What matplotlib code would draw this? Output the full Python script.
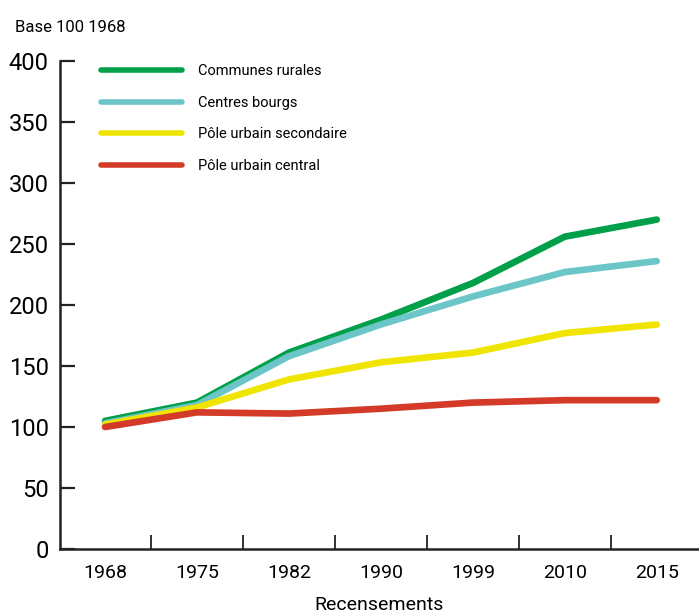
import matplotlib

matplotlib.use("Agg")
import matplotlib.pyplot as plt
from matplotlib.lines import Line2D

years = ["1968", "1975", "1982", "1990", "1999", "2010", "2015"]
communes_rurales = [105, 120, 161, 188, 218, 256, 270]
centres_bourgs = [103, 118, 158, 184, 207, 227, 236]
pole_secondaire = [102, 116, 139, 153, 161, 177, 184]
pole_central = [100, 112, 111, 115, 120, 122, 122]

series = [
    ("Communes rurales", communes_rurales, "#00a04a"),
    ("Centres bourgs", centres_bourgs, "#6cc6c8"),
    ("Pôle urbain secondaire", pole_secondaire, "#f0e500"),
    ("Pôle urbain central", pole_central, "#d33b28"),
]
draw_order = [2, 1, 0, 3]

plt.rcParams["font.family"] = ["Roboto", "DejaVu Sans"]

fig = plt.figure(figsize=(6.99, 6.15), dpi=100)
ax = fig.add_axes([60 / 699, 1 - 549 / 615, 1 - 60 / 699, 488 / 615])

x = list(range(len(years)))
for i in draw_order:
    label, values, color = series[i]
    ax.plot(x, values, color=color, lw=4.8, solid_capstyle="round",
            solid_joinstyle="round", zorder=2 + i)

ax.set_xlim(-0.49, 6.46)
ax.set_ylim(0, 400)
ax.set_yticks(range(0, 401, 50))
ax.tick_params(axis="y", direction="in", length=11, width=1.6,
               labelsize=17, pad=8, color="#222222")
ax.set_xticks(x)
ax.set_xticklabels(years)
ax.set_xticks([i + 0.5 for i in x[:-1]], minor=True)
ax.tick_params(axis="x", which="major", length=0, labelsize=14, pad=11)
ax.tick_params(axis="x", which="minor", direction="in", length=10,
               width=1.3, color="#222222")
for side in ["top", "right"]:
    ax.spines[side].set_visible(False)
for side in ["left", "bottom"]:
    ax.spines[side].set_linewidth(1.8)
    ax.spines[side].set_color("#222222")

ax.set_xlabel("Recensements", fontsize=14, labelpad=10)
fig.text(15 / 699, 1 - 28 / 615, "Base 100 1968", fontsize=12, va="center")

handles = [Line2D([0], [0], color=c, lw=4, solid_capstyle="round")
           for _, _, c in series]
ax.legend(handles, [s[0] for s in series], loc="upper left",
          bbox_to_anchor=(0.043, 1.02), frameon=False, fontsize=10.5,
          handlelength=5.6, handletextpad=1.1, labelspacing=1.2)

fig.savefig("out.png", dpi=100)
